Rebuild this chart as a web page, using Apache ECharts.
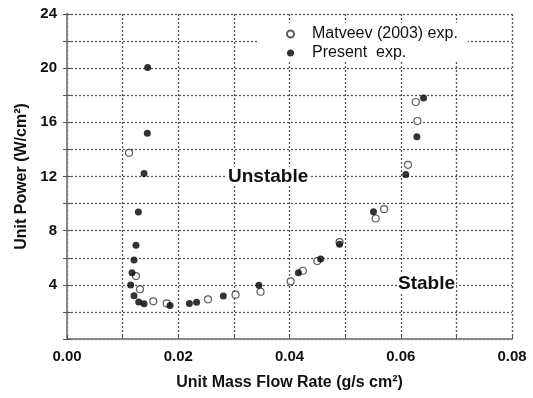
<!DOCTYPE html>
<html><head><meta charset="utf-8">
<script src="https://cdn.jsdelivr.net/npm/echarts@6/dist/echarts.min.js"></script>
<style>html,body{margin:0;padding:0;background:#fff}#c{width:533px;height:398px}</style>
</head><body><div id="c"></div>
<script>
var seriesNames = ['Matveev (2003) exp.', 'Present  exp.'];
var matveevX = [0.01115,0.0124,0.01312,0.01552,0.01792,0.02535,0.0303,0.0348,0.0402,0.0424,0.045,0.049,0.0555,0.057,0.0613,0.063,0.0627];
var matveevY = [13.75,4.65,3.67,2.78,2.63,2.93,3.27,3.49,4.26,5.04,5.76,7.16,8.9,9.59,12.86,16.1,17.5];
var presentX = [0.0145,0.01444,0.01385,0.01282,0.0124,0.01205,0.01169,0.01145,0.01205,0.01289,0.01385,0.01852,0.0220,0.0233,0.0281,0.0345,0.0416,0.0456,0.049,0.0551,0.0609,0.0629,0.0641];
var presentY = [20.05,15.2,12.23,9.37,6.92,5.83,4.9,3.98,3.2,2.73,2.61,2.48,2.63,2.71,3.17,3.97,4.9,5.9,6.99,9.4,12.15,14.93,17.8];
var xTickLabels = ['0.00','0.02','0.04','0.06','0.08'];
var yTickLabels = ['4','8','12','16','20','24'];
var regionLabels = ['Unstable','Stable'];

function zip(a,b){return a.map(function(v,i){return [v,b[i]];});}
var chart = echarts.init(document.getElementById('c'));
var font = 'Arial, "Liberation Sans", sans-serif';
var gridLine = {show:true, lineStyle:{color:'#555', type:[2,2], width:1.3}};
chart.setOption({
  animation:false,
  grid:{left:67, right:21, top:14, bottom:59},
  legend:{
    orient:'vertical', left:257, top:23, backgroundColor:'#fff', padding:[3,10,1,29],
    itemWidth:7, itemHeight:7, itemGap:3,
    textStyle:{fontFamily:font, fontSize:16, color:'#111', padding:[0,0,0,13]},
    data:seriesNames
  },
  xAxis:[{
    type:'value', min:0, max:0.08, interval:0.01,
    axisLine:{show:true, lineStyle:{color:'#888', width:2}},
    axisTick:{show:true, inside:true, length:4, lineStyle:{color:'#555'}},
    axisLabel:{fontFamily:font, fontSize:15, fontWeight:'bold', color:'#111', margin:10,
      formatter:function(v){var s=v.toFixed(2); return xTickLabels.indexOf(s)>=0?s:'';}},
    splitLine:gridLine,
    name:'Unit Mass Flow Rate (g/s cm²)', nameLocation:'middle', nameGap:36,
    nameTextStyle:{fontFamily:font, fontSize:16, fontWeight:'bold', color:'#111'}
  },{
    type:'value', position:'top', min:0, max:0.08, interval:0.01,
    axisLine:{show:true, lineStyle:{color:'#888', width:2}},
    axisTick:{show:false}, axisLabel:{show:false}, splitLine:{show:false}
  }],
  yAxis:[{
    type:'value', min:0, max:24, interval:2,
    axisLine:{show:true, lineStyle:{color:'#888', width:2}},
    axisTick:{show:true, inside:true, length:4, lineStyle:{color:'#555'}},
    axisLabel:{fontFamily:font, fontSize:15, fontWeight:'bold', color:'#111', margin:10,
      formatter:function(v){var s=String(v); return yTickLabels.indexOf(s)>=0?s:'';}},
    splitLine:gridLine,
    name:'Unit Power (W/cm²)', nameLocation:'middle', nameGap:36, nameRotate:90,
    nameTextStyle:{fontFamily:font, fontSize:16, fontWeight:'bold', color:'#111'}
  },{
    type:'value', position:'right', min:0, max:24, interval:2,
    axisLine:{show:true, lineStyle:{color:'#888', width:2}},
    axisTick:{show:true, inside:true, length:4, lineStyle:{color:'#555'}},
    axisLabel:{show:false}, splitLine:{show:false}
  }],
  series:[{
    name:seriesNames[0], type:'scatter', symbol:'circle', symbolSize:7,
    itemStyle:{color:'#fff', borderColor:'#333', borderWidth:1.2},
    data:zip(matveevX, matveevY), z:3
  },{
    name:seriesNames[1], type:'scatter', symbol:'circle', symbolSize:7,
    itemStyle:{color:'#000'},
    data:zip(presentX, presentY), z:4
  }],
  graphic:[
    {type:'text', left:226, top:167, z:10, style:{text:regionLabels[0], fontFamily:font, fontSize:19, fontWeight:'bold', fill:'#111', backgroundColor:'#fff', padding:[0,2]}},
    {type:'text', left:397, top:274, z:10, style:{text:regionLabels[1], fontFamily:font, fontSize:19, fontWeight:'bold', fill:'#111', backgroundColor:'#fff', padding:[0,1]}}
  ]
});
</script></body></html>
